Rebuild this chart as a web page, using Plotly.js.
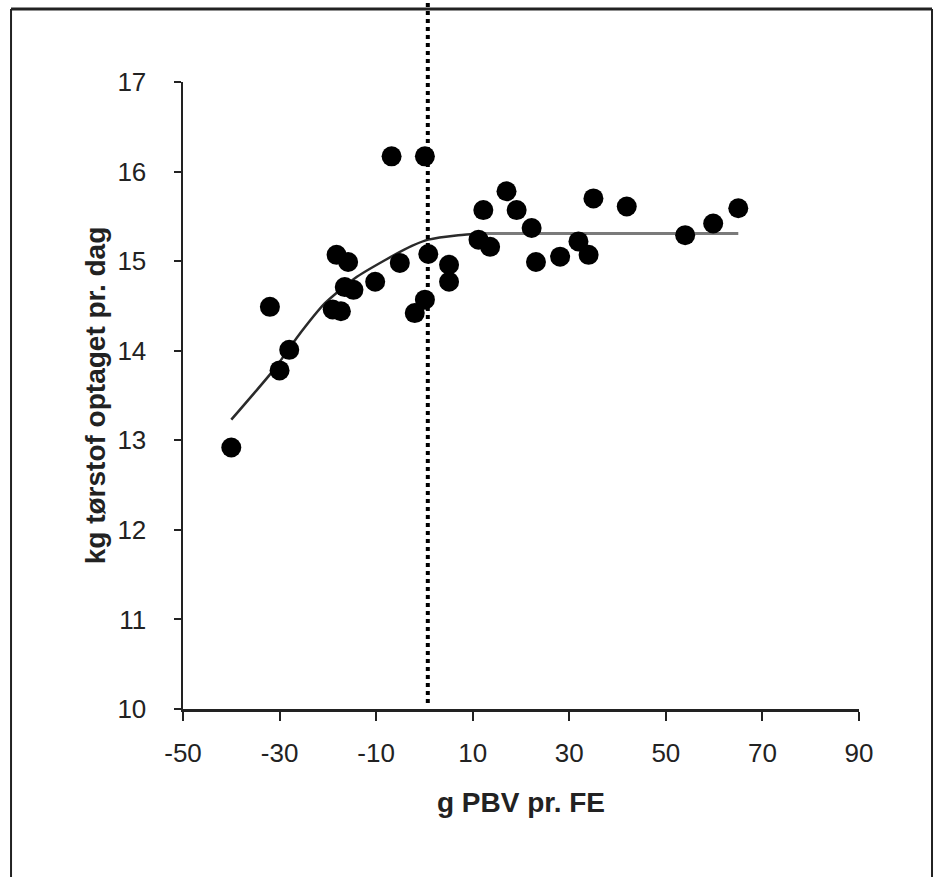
<!DOCTYPE html>
<html>
<head>
<meta charset="utf-8">
<script src="https://cdn.plot.ly/plotly-3.0.1.min.js"></script>
<style>html,body{margin:0;padding:0;background:#fff;}</style>
</head>
<body>
<div id="chart" style="width:937px;height:877px;"></div>
<script>
// Observed data points (g PBV pr. FE vs kg tørstof optaget pr. dag)
const pbv = [-40, -32, -30, -28, -19, -17.3, -18.2, -15.8, -16.5, -14.7, -10.2, -6.8, 0.1, -5.1, 0.8, -2.0, 0.1, 5.1, 5.1, 11.2, 12.2, 13.6, 17.0, 19.1, 22.2, 23.1, 28.1, 31.9, 34.0, 35.0, 41.9, 54.0, 59.8, 65.0];
const intake = [12.92, 14.49, 13.78, 14.01, 14.46, 14.44, 15.07, 14.99, 14.71, 14.68, 14.77, 16.17, 16.17, 14.98, 15.08, 14.42, 14.57, 14.96, 14.77, 15.24, 15.57, 15.16, 15.78, 15.57, 15.37, 14.99, 15.05, 15.22, 15.07, 15.70, 15.61, 15.29, 15.42, 15.59];

// Fitted curve (curved part and plateau)
const curveX = [-40, -31, -26.5, -20.6, -14.4, -8.2, -2.6, 0.8, 7, 12];
const curveY = [13.23, 13.80, 14.14, 14.53, 14.81, 15.01, 15.17, 15.24, 15.29, 15.31];
const plateauX = [12, 65];
const plateauY = [15.31, 15.31];

// Vertical reference line position
const refX = 0.7;

const xTicks = [-50, -30, -10, 10, 30, 50, 70, 90];
const yTicks = [10, 11, 12, 13, 14, 15, 16, 17];

const FONT = "Liberation Sans, Arial, sans-serif";

const traces = [
  {x: curveX, y: curveY, mode: 'lines', type: 'scatter',
   line: {color: '#2a2a2a', width: 2.5, shape: 'spline', smoothing: 0.6}, hoverinfo: 'skip'},
  {x: plateauX, y: plateauY, mode: 'lines', type: 'scatter',
   line: {color: '#7a7a7a', width: 3}, hoverinfo: 'skip'},
  {x: pbv, y: intake, mode: 'markers', type: 'scatter',
   marker: {color: '#000', size: 20, line: {width: 0}}}
];

const layout = {
  width: 937, height: 877,
  margin: {l: 183, r: 78, t: 82, b: 168},
  paper_bgcolor: '#fff', plot_bgcolor: '#fff',
  showlegend: false,
  font: {family: FONT, color: '#222'},
  xaxis: {
    range: [-50, 90], tickvals: xTicks, ticktext: xTicks.map(String),
    showgrid: false, zeroline: false,
    showline: true, linecolor: '#222', linewidth: 2.5,
    ticks: 'outside', ticklen: 9, tickwidth: 2, tickcolor: '#222',
    tickfont: {size: 26, family: FONT, color: '#222'},
    ticklabelstandoff: 10,
    title: {text: 'g PBV pr. FE', font: {size: 28, family: FONT, color: '#222', weight: 'bold'}, standoff: 26}
  },
  yaxis: {
    range: [10, 17], tickvals: yTicks, ticktext: yTicks.map(String),
    showgrid: false, zeroline: false,
    showline: true, linecolor: '#222', linewidth: 2.5,
    ticks: 'outside', ticklen: 7, tickwidth: 2, tickcolor: '#222',
    tickfont: {size: 26, family: FONT, color: '#222'},
    ticklabelstandoff: 22,
    title: {text: 'kg tørstof optaget pr. dag', font: {size: 28, family: FONT, color: '#222', weight: 'bold'}, standoff: 4}
  },
  shapes: [
    // outer frame (top, left, right)
    {type: 'line', xref: 'paper', yref: 'paper', x0: -0.2544, x1: 1.108, y0: 1.1164, y1: 1.1164, line: {color: '#222', width: 3}},
    {type: 'line', xref: 'paper', yref: 'paper', x0: -0.2544, x1: -0.2544, y0: 1.1164, y1: -0.3, line: {color: '#222', width: 2}},
    {type: 'line', xref: 'paper', yref: 'paper', x0: 1.108, x1: 1.108, y0: 1.1164, y1: -0.3, line: {color: '#222', width: 2}},
    // dotted vertical line
    {type: 'line', xref: 'x', yref: 'paper', x0: refX, x1: refX, y0: 0.0096, y1: 1.13, line: {color: '#000', width: 4, dash: 'dot'}}
  ]
};

Plotly.newPlot('chart', traces, layout, {displayModeBar: false, staticPlot: true});
</script>
</body>
</html>
